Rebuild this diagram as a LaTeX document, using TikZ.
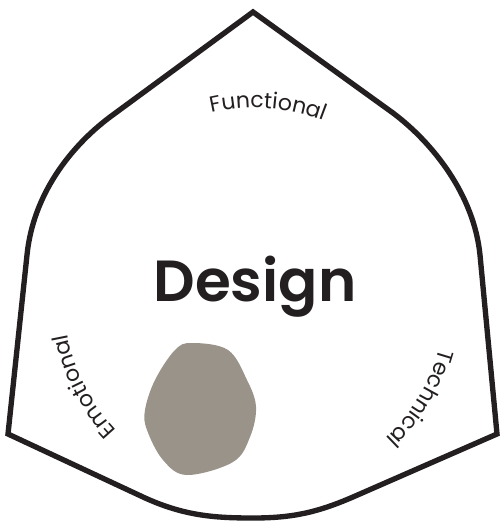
\documentclass[tikz,border=0pt]{standalone}
\usepackage{fontspec}
\setmainfont{Poppins}
\newfontfamily\designfont{Poppins}[UprightFont=* SemiBold]
\usetikzlibrary{decorations.text}
\definecolor{ink}{HTML}{231F20}
\definecolor{blobgray}{HTML}{9A938A}
\tikzset{
  outline/.style={draw=ink, line width=4pt, line join=miter},
  arclabel/.style={decorate, decoration={text along path, text align=center,
    text={|\fontsize{16.5}{20}\selectfont\color{ink}|#1}}}
}
\begin{document}
\begin{tikzpicture}[x=0.75pt,y=-0.75pt]
\useasboundingbox (0,0) rectangle (501,524);
% outline
\draw[outline] (253,12) -- (110,117) .. controls (70,147) and (33,195) .. (27,255)
  -- (8,434) -- (143,497) .. controls (184,516) and (215,518) .. (253,518)
  .. controls (291,518) and (316,513) .. (353,497) -- (497,434) -- (480,255)
  .. controls (474,195) and (433,143) .. (393,113) -- cycle;
% blob
\fill[blobgray] plot[smooth cycle, tension=0.6] coordinates {(192,343) (228,350) (247,380) (256,407) (250,437) (233,462) (187,475) (163,460) (147,430) (145,410) (155,380) (175,350)};
% centre
\coordinate (c) at (255,299);
\node[anchor=base, inner sep=0pt, text=ink, font=\designfont\fontsize{43.5}{50}\selectfont] (design) at (255,301) {Design};
% labels along the circle
\path[arclabel={Functional}] (c) ++(-146:191) arc[start angle=-146, end angle=-26, radius=191];
\path[arclabel={Emotional}] (c) ++(-267:191) arc[start angle=-267, end angle=-147, radius=191];
\path[arclabel={Technical}] (c) ++(-389:191) arc[start angle=-389, end angle=-269, radius=191];
\end{tikzpicture}
\end{document}
